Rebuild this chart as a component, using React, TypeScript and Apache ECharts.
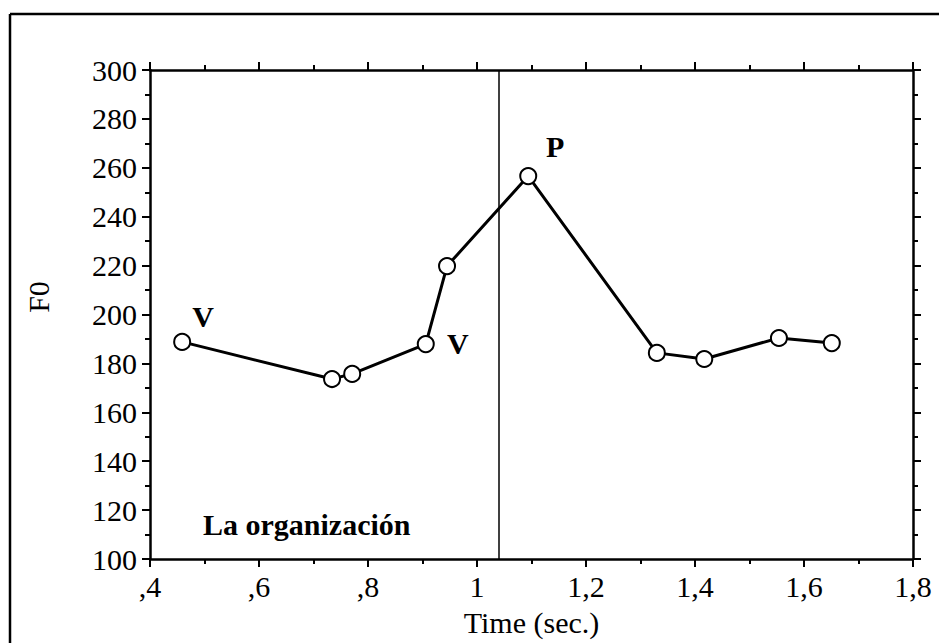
import React, { useEffect, useRef } from "react";
import * as echarts from "echarts";

const timeSec = [0.459, 0.734, 0.771, 0.906, 0.945, 1.094, 1.33, 1.417, 1.554, 1.651];
const f0 = [188.8, 173.6, 175.7, 187.9, 219.8, 256.6, 184.3, 181.8, 190.4, 188.3];
const pointTags = ["V", "", "", "V", "", "P", "", "", "", ""];
const boundaryTime = 1.044;
const phraseText = "La organización";
const xTitle = "Time (sec.)";
const yTitle = "F0";

const SERIF = "'Liberation Serif', 'DejaVu Serif', serif";

function fmtX(v: number): string {
  const s = (Math.round(v * 10) / 10).toFixed(1);
  if (s.endsWith(".0")) return s.slice(0, -2);
  return s.replace(/^0\./, ",").replace(".", ",");
}

export default function App() {
  const ref = useRef<HTMLDivElement>(null);
  useEffect(() => {
    if (!ref.current) return;
    const chart = echarts.init(ref.current, undefined, { renderer: "svg" });
    const tagOffsets: Record<number, [number, number]> = {
      0: [21, -25],
      3: [32, -1],
      5: [27, -30],
    };
    const data = timeSec.map((t, i) => {
      const item: any = { value: [t, f0[i]] };
      if (pointTags[i]) {
        item.label = {
          show: true,
          formatter: pointTags[i],
          position: "inside",
          offset: tagOffsets[i] || [0, 0],
          color: "#000",
          fontFamily: SERIF,
          fontWeight: "bold",
          fontSize: 30,
        };
      }
      return item;
    });
    const axisCommon = {
      type: "value" as const,
      axisLine: { show: true, onZero: false, lineStyle: { color: "#000", width: 2.5 } },
      axisTick: { show: true, inside: false, length: 8, lineStyle: { color: "#000", width: 2 } },
      minorTick: { show: true, splitNumber: 2, length: 5, lineStyle: { color: "#000", width: 2 } },
      splitLine: { show: false },
      minorSplitLine: { show: false },
    };
    chart.setOption({
      animation: false,
      backgroundColor: "#fff",
      grid: { left: 150, top: 70, right: 26, bottom: 84, containLabel: false },
      xAxis: [
        {
          ...axisCommon,
          position: "bottom",
          min: 0.4,
          max: 1.8,
          interval: 0.2,
          name: xTitle,
          nameLocation: "middle",
          nameGap: 48,
          nameTextStyle: { fontFamily: SERIF, fontSize: 30, color: "#000" },
          axisLabel: {
            show: true,
            margin: 12,
            formatter: (v: number) => fmtX(v),
            fontFamily: SERIF,
            fontSize: 30,
            color: "#000",
          },
        },
        {
          ...axisCommon,
          position: "top",
          min: 0.4,
          max: 1.8,
          interval: 0.2,
          axisLabel: { show: false },
        },
      ],
      yAxis: [
        {
          ...axisCommon,
          position: "left",
          min: 100,
          max: 300,
          interval: 20,
          axisLabel: {
            show: true,
            margin: 13,
            fontFamily: SERIF,
            fontSize: 30,
            color: "#000",
          },
        },
        {
          ...axisCommon,
          position: "right",
          min: 100,
          max: 300,
          interval: 20,
          axisLabel: { show: false },
        },
      ],
      series: [
        {
          type: "line",
          xAxisIndex: 0,
          yAxisIndex: 0,
          data,
          symbol: "emptyCircle",
          symbolSize: 16,
          lineStyle: { color: "#000", width: 3 },
          itemStyle: { color: "#000", borderColor: "#000", borderWidth: 2.8 },
          z: 3,
          markLine: {
            silent: true,
            symbol: "none",
            label: { show: false },
            lineStyle: { color: "#000", width: 1.5, type: "solid" },
            data: [{ xAxis: boundaryTime }],
          },
        },
      ],
      graphic: [
        {
          type: "line",
          shape: { x1: 10, y1: 14, x2: 10, y2: 660 },
          style: { stroke: "#000", lineWidth: 2.5 },
        },
        {
          type: "line",
          shape: { x1: 10, y1: 14, x2: 960, y2: 14 },
          style: { stroke: "#000", lineWidth: 2.5 },
        },
        {
          type: "text",
          x: 38,
          y: 297,
          rotation: Math.PI / 2,
          style: {
            text: yTitle,
            fontFamily: SERIF,
            fontSize: 30,
            fill: "#000",
            align: "center",
            verticalAlign: "middle",
          },
        },
        {
          type: "text",
          x: 203,
          y: 524,
          style: {
            text: phraseText,
            fontFamily: SERIF,
            fontSize: 30,
            fontWeight: "bold",
            fill: "#000",
            align: "left",
            verticalAlign: "middle",
          },
        },
      ],
    });
    return () => chart.dispose();
  }, []);
  return (
    <div
      ref={ref}
      style={{ position: "fixed", left: 0, top: 0, width: 939, height: 643, background: "#fff" }}
    />
  );
}
